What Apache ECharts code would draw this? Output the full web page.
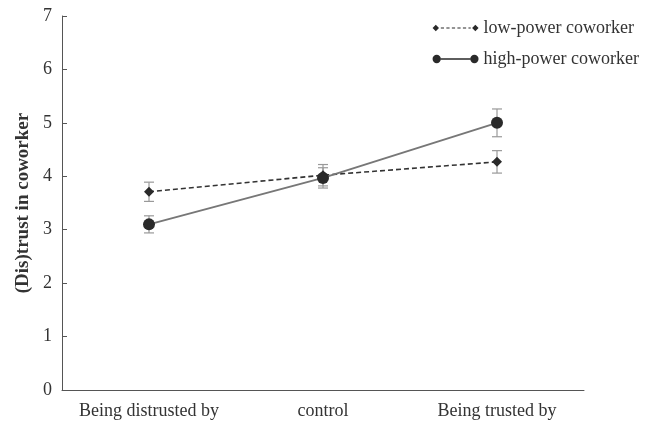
<!DOCTYPE html>
<html>
<head>
<meta charset="utf-8">
<script src="https://cdn.jsdelivr.net/npm/echarts@6/dist/echarts.min.js"></script>
<style>
  html, body { margin: 0; padding: 0; background: #fff; }
  #chart { width: 658px; height: 426px; }
</style>
</head>
<body>
<div id="chart"></div>
<script>
const categories = ['Being distrusted by', 'control', 'Being trusted by'];
const lowPower = [3.71, 4.02, 4.27];
const lowPowerErr = [0.18, 0.2, 0.21];
const highPower = [3.1, 3.97, 5.0];
const highPowerErr = [0.16, 0.19, 0.26];
const yTicks = [0, 1, 2, 3, 4, 5, 6, 7];

const chart = echarts.init(document.getElementById('chart'), null, { renderer: 'canvas' });

const font = '"Liberation Serif", "DejaVu Serif", serif';

// legend icons: line with a marker at each end
const lowIcon = 'path://M0 5L3.5 1.5L7 5L3.5 8.5Z M9 4.4h3.5v1.2h-3.5Z M15 4.4h3.5v1.2h-3.5Z M21 4.4h3.5v1.2h-3.5Z M27 4.4h3.5v1.2h-3.5Z M33 4.4h3.5v1.2h-3.5Z M39 4.4h2.5v1.2h-2.5Z M43 5L46.5 1.5L50 5L46.5 8.5Z';
const highIcon = 'path://M0 5a4.5 4.5 0 1 0 9 0a4.5 4.5 0 1 0 -9 0Z M9 4.3h32v1.4h-32Z M41 5a4.5 4.5 0 1 0 9 0a4.5 4.5 0 1 0 -9 0Z';

function errorBars(values, errs, color) {
  return {
    type: 'custom',
    z: 1,
    silent: true,
    data: values.map((v, i) => [i, v - errs[i], v + errs[i]]),
    renderItem: function (params, api) {
      const lo = api.coord([api.value(0), api.value(1)]);
      const hi = api.coord([api.value(0), api.value(2)]);
      const w = 5;
      const style = { stroke: color, lineWidth: 1.2 };
      return {
        type: 'group',
        children: [
          { type: 'line', shape: { x1: lo[0], y1: lo[1], x2: hi[0], y2: hi[1] }, style: style },
          { type: 'line', shape: { x1: lo[0] - w, y1: lo[1], x2: lo[0] + w, y2: lo[1] }, style: style },
          { type: 'line', shape: { x1: hi[0] - w, y1: hi[1], x2: hi[0] + w, y2: hi[1] }, style: style }
        ]
      };
    }
  };
}

const option = {
  backgroundColor: '#fff',
  animation: false,
  textStyle: { fontFamily: font },
  grid: { left: 62, right: 74, top: 16, bottom: 36, containLabel: false, outerBoundsMode: 'none' },
  legend: {
    orient: 'vertical',
    right: 14,
    top: 14,
    itemWidth: 46,
    itemHeight: 10,
    itemGap: 13,
    textStyle: { fontFamily: font, fontSize: 18, color: '#333' },
    data: [
      { name: 'low-power coworker', icon: lowIcon, itemStyle: { color: '#2a2a2a' } },
      { name: 'high-power coworker', icon: highIcon, itemStyle: { color: '#2a2a2a' } }
    ]
  },
  xAxis: {
    type: 'category',
    data: categories,
    boundaryGap: true,
    axisLine: { lineStyle: { color: '#555', width: 1 } },
    axisTick: { inside: true, length: 5, lineStyle: { color: '#555' } },
    axisLabel: { fontFamily: font, fontSize: 18, color: '#333', margin: 12, interval: 0, hideOverlap: false },
    splitLine: { show: false }
  },
  yAxis: {
    type: 'value',
    min: yTicks[0],
    max: yTicks[yTicks.length - 1],
    interval: 1,
    name: '(Dis)trust in coworker',
    nameLocation: 'middle',
    nameGap: 29,
    nameRotate: 90,
    nameTextStyle: { fontFamily: font, fontSize: 19, fontWeight: 'bold', color: '#333' },
    axisLine: { show: true, lineStyle: { color: '#555', width: 1 } },
    axisTick: { show: true, inside: true, length: 5, lineStyle: { color: '#555' } },
    axisLabel: { fontFamily: font, fontSize: 18, color: '#333', margin: 10 },
    splitLine: { show: false }
  },
  series: [
    errorBars(lowPower, lowPowerErr, '#999'),
    errorBars(highPower, highPowerErr, '#999'),
    {
      name: 'low-power coworker',
      type: 'line',
      z: 3,
      data: lowPower,
      symbol: 'diamond',
      symbolSize: 10,
      itemStyle: { color: '#2a2a2a' },
      lineStyle: { color: '#333', width: 1.6, type: [5, 3] }
    },
    {
      name: 'high-power coworker',
      type: 'line',
      z: 4,
      data: highPower,
      symbol: 'circle',
      symbolSize: 12,
      itemStyle: { color: '#2a2a2a' },
      lineStyle: { color: '#777', width: 2 }
    }
  ]
};

chart.setOption(option);
</script>
</body>
</html>
